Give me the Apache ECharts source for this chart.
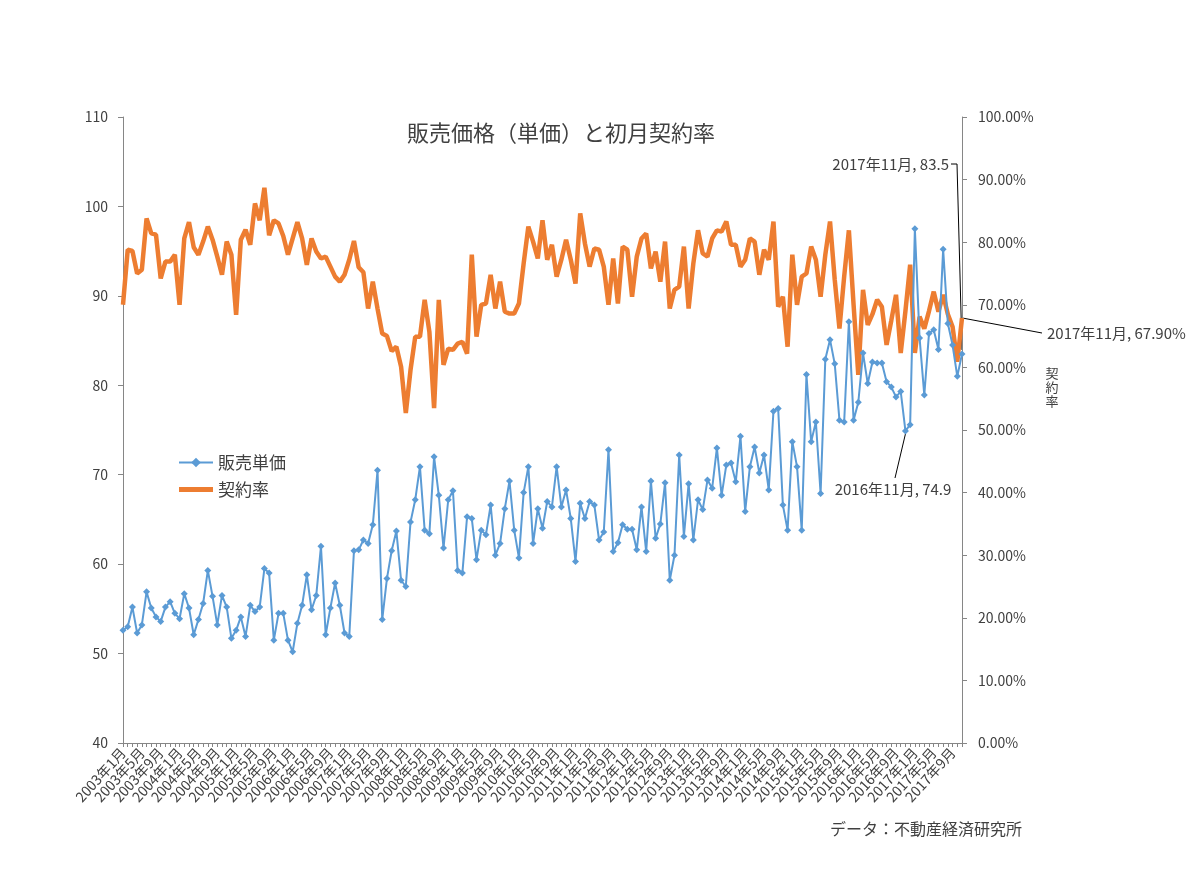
<!DOCTYPE html>
<html lang="ja">
<head>
<meta charset="UTF-8">
<title>販売価格（単価）と初月契約率</title>
<script src="https://cdn.jsdelivr.net/npm/echarts@6/dist/echarts.min.js"></script>
<style>
    html, body { margin: 0; padding: 0; background: #fff; }
    #chart { width: 1200px; height: 879px; }
</style>
</head>
<body>
<div id="chart"></div>
<script>
    // months 2003年1月 .. 2017年11月
    const startYear = 2003;
    const monthCount = 179;
    const months = [];
    for (let k = 0; k < monthCount; k++) {
        months.push((startYear + Math.floor(k / 12)) + '年' + (k % 12 + 1) + '月');
    }

    // 販売単価 (万円/㎡)
    const price = [
        52.6, 53.0, 55.2, 52.3, 53.2, 56.9, 55.1, 54.1, 53.6, 55.2, 55.8, 54.5, 53.9, 56.7, 55.1, 52.1, 53.8, 55.6, 59.3, 56.4,
        53.2, 56.5, 55.2, 51.7, 52.6, 54.1, 51.9, 55.4, 54.7,
        55.2, 59.5, 59.0, 51.5, 54.5, 54.5, 51.5, 50.2, 53.4, 55.4, 58.8, 54.9, 56.5, 62.0, 52.1, 55.1, 57.9, 55.4, 52.3, 51.9,
        61.5, 61.6, 62.7, 62.3, 64.4, 70.5, 53.8, 58.4, 61.5, 63.7, 58.2,
        57.5, 64.7, 67.2, 70.9, 63.8, 63.4, 72.0, 67.7, 61.8, 67.2, 68.2, 59.3, 59.0, 65.3, 65.1, 60.5, 63.8, 63.3, 66.6, 61.0,
        62.3, 66.2, 69.3, 63.8, 60.7, 68.0, 70.9, 62.3,
        66.2, 64.0, 67.0, 66.4, 70.9, 66.4, 68.3, 65.1, 60.3, 66.8, 65.1, 67.0, 66.6, 62.7, 63.6, 72.8, 61.4, 62.4, 64.4, 63.9,
        63.9, 61.6, 66.4, 61.4, 69.3, 62.9, 64.5, 69.1, 58.2, 61.0, 72.2,
        63.1, 69.0, 62.7, 67.2, 66.1, 69.4, 68.5, 73.0, 67.7, 71.1, 71.3, 69.2, 74.3, 65.9, 70.9, 73.1, 70.2, 72.2, 68.3, 77.1,
        77.4, 66.6, 63.8, 73.7, 70.9, 63.8, 81.2, 73.7, 75.9, 67.9,
        82.9, 85.1, 82.4, 76.1, 75.9, 87.1, 76.1, 78.1, 83.6, 80.2, 82.6, 82.5, 82.5, 80.4, 79.8, 78.7, 79.3, 74.9, 75.6, 97.5,
        85.3, 78.9, 85.8, 86.2, 84.0, 95.2, 86.9, 84.5, 81.0, 83.5
    ];

    // 初月契約率 (%)
    const rate = [
        70.0, 78.8, 78.6, 75.0, 75.6, 83.8, 81.4, 81.2, 74.2, 76.9, 76.9, 78.0, 70.0, 80.6, 83.2, 79.2, 78.0, 80.1, 82.5, 80.4,
        77.7, 74.8, 80.1, 78.0, 68.4, 80.4, 82.0, 79.6, 86.2,
        83.5, 88.7, 81.1, 83.5, 83.0, 81.0, 78.0, 80.6, 83.2, 80.6, 76.4, 80.6, 78.5, 77.4, 77.7, 76.1, 74.5, 73.7, 74.8, 77.2,
        80.2, 76.0, 75.2, 69.4, 73.7, 69.4, 65.4, 65.0, 62.6, 63.3,
        60.1, 52.7, 59.6, 64.9, 64.9, 70.8, 65.7, 53.5, 70.8, 60.4, 63.0, 62.8, 63.8, 64.1, 62.2, 78.0, 64.9, 70.0, 70.2, 74.8,
        69.4, 73.7, 68.9, 68.6, 68.6, 70.2, 76.6, 82.5, 80.1, 77.4,
        83.5, 77.2, 79.6, 74.5, 77.2, 80.4, 77.2, 73.4, 84.6, 79.8, 76.1, 79.0, 78.8, 76.1, 70.0, 77.4, 70.2, 79.3, 78.8, 71.3,
        77.7, 80.6, 81.4, 75.8, 78.5, 73.7, 80.1, 69.4, 72.4, 72.9,
        79.3, 69.4, 76.6, 81.9, 78.2, 77.7, 80.6, 81.9, 81.7, 83.3, 79.6, 79.6, 76.1, 77.2, 80.6, 80.1, 74.8, 78.8, 77.2, 83.3,
        69.7, 71.3, 63.3, 78.0, 70.0, 74.5, 75.0, 79.3, 77.2, 71.3,
        78.0, 83.3, 74.0, 66.2, 74.5, 81.9, 70.0, 58.8, 72.4, 66.8, 68.5, 70.8, 69.7, 63.6, 67.5, 71.6, 62.3, 69.0, 76.4, 62.3,
        68.1, 66.2, 69.0, 72.1, 68.9, 71.6, 68.5, 66.5, 60.9, 67.9
    ];

    const FONT = '"Noto Sans CJK JP", "Noto Sans", sans-serif';
    const TXT = '#404040';
    const AXIS = '#868686';

    const chart = echarts.init(document.getElementById('chart'));

    chart.setOption({
        animation: false,
        textStyle: { fontFamily: FONT },
        grid: { left: 123, right: 238, top: 117, bottom: 136 },
        legend: {
            data: [
                { name: '販売単価' },
                { name: '契約率', icon: 'path://M0,0H35V5H0Z' }
            ],
            orient: 'vertical',
            left: 173,
            top: 449,
            itemGap: 10,
            itemWidth: 34,
            itemHeight: 12,
            textStyle: { fontSize: 17, color: TXT, fontFamily: FONT }
        },
        xAxis: {
            type: 'category',
            data: months,
            boundaryGap: false,
            axisLine: { lineStyle: { color: AXIS } },
            axisTick: { interval: 0, length: 4, lineStyle: { color: AXIS } },
            axisLabel: { interval: 3, rotate: 48, fontSize: 14, color: TXT, margin: 7, fontFamily: FONT },
            splitLine: { show: false }
        },
        yAxis: [
            {
                type: 'value',
                min: 40, max: 110, interval: 10,
                axisLine: { show: true, lineStyle: { color: AXIS } },
                axisTick: { show: true, length: 5, lineStyle: { color: AXIS } },
                axisLabel: { fontSize: 14, color: TXT, margin: 15, fontFamily: FONT },
                splitLine: { show: false }
            },
            {
                type: 'value',
                position: 'right',
                min: 0, max: 100, interval: 10,
                axisLine: { show: true, lineStyle: { color: AXIS } },
                axisTick: { show: true, length: 5, lineStyle: { color: AXIS } },
                axisLabel: {
                    fontSize: 14, color: TXT, margin: 16, fontFamily: FONT,
                    formatter: v => v.toFixed(2) + '%'
                },
                splitLine: { show: false }
            }
        ],
        series: [
            {
                name: '契約率',
                type: 'line',
                yAxisIndex: 1,
                data: rate,
                symbol: 'none',
                color: '#ED7D31',
                lineStyle: { width: 4.5, color: '#ED7D31' }
            },
            {
                name: '販売単価',
                type: 'line',
                yAxisIndex: 0,
                data: price,
                symbol: 'diamond',
                symbolSize: 7,
                showAllSymbol: true,
                color: '#5B9BD5',
                itemStyle: { color: '#5B9BD5' },
                lineStyle: { width: 2, color: '#5B9BD5' }
            }
        ]
    });

    // callouts, anchored on the data points
    const last = monthCount - 1;
    const nov2016 = 166;
    const pLast = chart.convertToPixel({ seriesIndex: 1 }, [last, price[last]]);
    const rLast = chart.convertToPixel({ seriesIndex: 0 }, [last, rate[last]]);
    const p2016 = chart.convertToPixel({ seriesIndex: 1 }, [nov2016, price[nov2016]]);

    const lineStyle = { stroke: '#000', lineWidth: 1 };
    const label = (text, x, y, align) => ({
        type: 'text',
        style: { text, x, y, font: '15px ' + FONT, fill: TXT, textAlign: align, textVerticalAlign: 'middle' }
    });

    chart.setOption({
        graphic: [
            {
                type: 'text',
                style: {
                    text: '販売価格（単価）と初月契約率', x: 561, y: 133,
                    font: '22px ' + FONT, fill: TXT, textAlign: 'center', textVerticalAlign: 'middle'
                }
            },
            {
                type: 'text',
                style: {
                    text: '契\n約\n率', x: 1052, y: 387, lineHeight: 14,
                    font: '13px ' + FONT, fill: TXT, textAlign: 'center', textVerticalAlign: 'middle'
                }
            },
            label(months[last] + ', ' + price[last].toFixed(1), pLast[0] - 13, 164, 'right'),
            {
                type: 'polyline',
                shape: { points: [[pLast[0] - 11, 164], [pLast[0] - 5, 164], [pLast[0], pLast[1] - 4]] },
                style: lineStyle
            },
            label(months[last] + ', ' + rate[last].toFixed(2) + '%', 1047, 333, 'left'),
            {
                type: 'line',
                shape: { x1: rLast[0], y1: rLast[1], x2: 1042, y2: 333 },
                style: lineStyle
            },
            label(months[nov2016] + ', ' + price[nov2016].toFixed(1), 893, 489, 'center'),
            {
                type: 'line',
                shape: { x1: 895, y1: 478, x2: p2016[0], y2: p2016[1] + 3 },
                style: lineStyle
            },
            {
                type: 'text',
                style: {
                    text: 'データ：不動産経済研究所', x: 830, y: 829,
                    font: '16px ' + FONT, fill: TXT, textAlign: 'left', textVerticalAlign: 'middle'
                }
            }
        ]
    });
</script>
</body>
</html>
